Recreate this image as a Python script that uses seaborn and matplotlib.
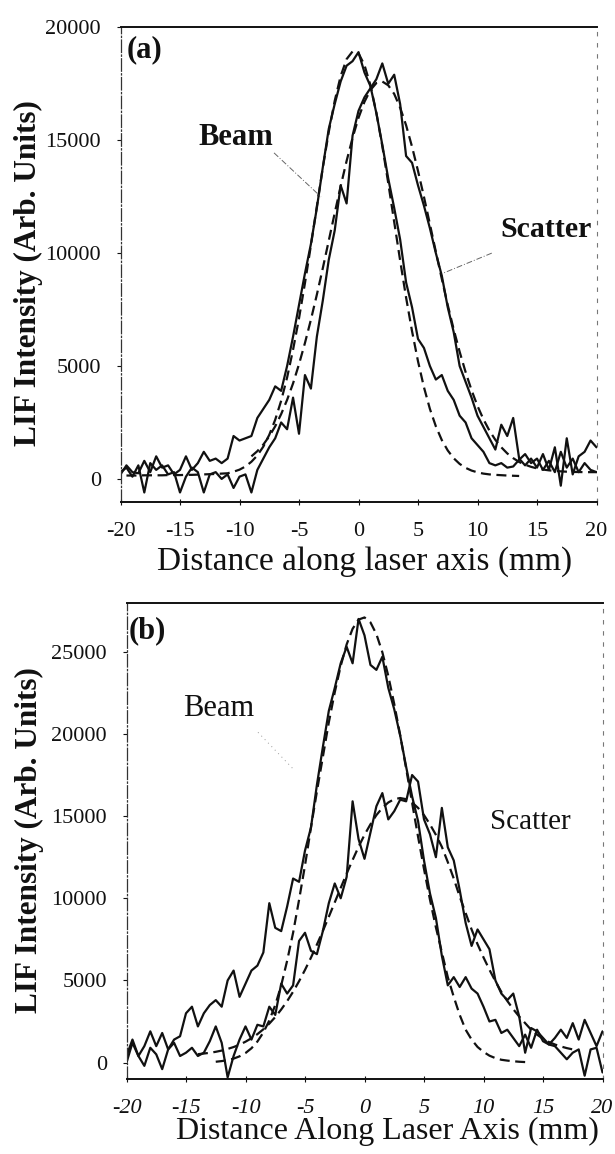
import numpy as np
import matplotlib
matplotlib.use("Agg")
import matplotlib.pyplot as plt
import seaborn as sns

# ---------------- data ----------------
# measured profiles sampled every 0.5 mm from -20 to 20 mm
X_GRID = np.arange(-20, 20.25, 0.5)

beam_a = [200, 600, 300, 250, 800, 300, 1000, 500, 600, 200,
          400, 1000, 400, 700, 1200, 800, 900, 700, 900, 1900,
          1700, 1800, 1900, 2700, 3100, 3500, 4100, 3900, 5000, 6300,
          7700, 9100, 10400, 12000, 13800, 15500, 16600, 17600, 18300, 18500,
          18900, 18000, 17400, 16200, 14800, 13300, 12000, 10600, 8700, 7600,
          6200, 5800, 5000, 4400, 4600, 3900, 3500, 2800, 2500, 1800,
          1500, 1200, 700, 600, 700, 500, 550, 850, 1100, 700,
          900, 400, 800, 300, 1200, 500, 900, 300, 700, 400, 300]

scatter_a = [300, 500, 100, 600, -600, 700, 400, 600, 200, 300,
             -600, 100, 500, 300, -600, 200, 300, 0, 200, -400,
             100, 200, -600, 400, 900, 1400, 1800, 2500, 2200, 3600,
             2000, 4600, 4000, 6300, 7900, 9700, 11000, 13000, 12200, 15200,
             16300, 16900, 17300, 17700, 18400, 17500, 17900, 16600, 14300, 14000,
             13000, 12100, 11100, 10000, 9000, 7600, 6500, 5000, 4300, 3600,
             2800, 2300, 1800, 1300, 2400, 1900, 2700, 900, 600, 900,
             500, 1100, 400, 1400, -300, 1800, 200, 1000, 1200, 1700, 1400]

beam_fit_a_x = np.arange(-19.5, 13.75, 0.5)
beam_fit_a = [150, 150, 150, 160, 160, 160, 160, 170, 170, 170,
              180, 180, 190, 200, 210, 220, 235, 250, 320, 410,
              550, 760, 1040, 1430, 1950, 2620, 3460, 4490, 5720, 7110,
              8670, 10340, 12070, 13780, 15360, 16740, 17840, 18590, 18930, 18850,
              18330, 17440, 16220, 14740, 13100, 11380, 9670, 8030, 6540, 5210,
              4060, 3100, 2330, 1720, 1260, 915, 665, 490, 370, 290,
              235, 200, 180, 165, 150, 140, 130]

scatter_fit_a_x = np.arange(-9, 20.25, 0.5)
scatter_fit_a = [1000, 1230, 1520, 1890, 2330, 2870, 3500, 4230, 5080, 6020,
                 7050, 8160, 9330, 10550, 11770, 12960, 14080, 15100, 15990, 16700,
                 17220, 17530, 17600, 17430, 17050, 16440, 15660, 14710, 13640, 12490,
                 11280, 10060, 8860, 7700, 6620, 5630, 4730, 3930, 3230, 2640,
                 2140, 1730, 1400, 1130, 920, 750, 630, 535, 465, 415,
                 380, 355, 335, 320, 310, 305, 300, 300, 300]

beam_b = [400, 1400, 400, 1000, 1900, 1000, 1800, 800, 1400, 1600,
          3000, 3400, 2200, 3000, 3500, 3800, 3400, 5000, 5600, 4000,
          4800, 5600, 5900, 6700, 9700, 8200, 8000, 9500, 11200, 11000,
          12900, 14300, 16900, 19200, 21400, 22800, 24300, 25300, 24300, 27000,
          26000, 24200, 23900, 24700, 22800, 21500, 19900, 18000, 16200, 14700,
          12300, 10300, 8800, 6500, 4700, 5200, 4600, 5200, 4500, 4200,
          3400, 2500, 2600, 1800, 2000, 1500, 1000, 1700, 900, 2000,
          1300, 1100, 1500, 2000, 1500, 2400, 1400, 2600, 1800, 1000, 1900]

scatter_b = [0, 1200, 400, -200, 900, 500, -400, 800, 1200, 400,
             600, 900, 400, 600, 1300, 2200, 1200, -900, 400, 1400,
             2200, 1400, 2300, 2200, 3400, 2900, 4800, 4200, 4700, 7400,
             7900, 6800, 6600, 8000, 9700, 10900, 10000, 11300, 15900, 13600,
             12400, 14000, 15600, 16400, 14800, 15300, 16000, 15900, 17500, 17100,
             14800, 13900, 12500, 15500, 13100, 12300, 10500, 8500, 7100, 8100,
             7500, 6900, 5000, 4200, 3800, 4200, 2800, 600, 2100, 1900,
             1500, 1100, 1000, 600, 200, 600, 800, -800, 800, 900, -600]

beam_fit_b_x = np.arange(-12.5, 13.75, 0.5)
beam_fit_b = [50, 90, 150, 240, 380, 580, 870, 1280, 1830, 2560,
              3500, 4700, 6200, 7900, 9900, 12000, 14300, 16500, 18600, 20700,
              22530, 24140, 25450, 26400, 26960, 27090, 26790, 26070, 24970, 23530,
              21820, 19920, 17890, 15810, 13750, 11780, 9920, 8230, 6710, 5200,
              4000, 2900, 2000, 1400, 950, 650, 420, 270, 170, 120,
              80, 50, 30]

scatter_fit_b_x = np.arange(-14, 17.75, 0.5)
scatter_fit_b = [510, 550, 595, 655, 730, 830, 945, 1090, 1270, 1480,
                 1730, 2025, 2370, 2770, 3230, 3740, 4310, 4950, 5640, 6385,
                 7180, 8010, 8870, 9750, 10630, 11500, 12330, 13130, 13860, 14500,
                 15060, 15500, 15830, 16030, 16100, 16030, 15830, 15500, 15060, 14500,
                 13860, 13130, 12200, 11200, 10100, 9100, 8100, 7200, 6400, 5650,
                 4950, 4300, 3750, 3250, 2800, 2400, 2000, 1700, 1450, 1250,
                 1100, 980, 880, 800]

X_TICKS = [-20, -15, -10, -5, 0, 5, 10, 15, 20]
X_TICK_LABELS = ["-20", "-15", "-10", "-5", "0", "5", "10", "15", "20"]
Y_TICKS_A = [0, 5000, 10000, 15000, 20000]
Y_TICKS_B = [0, 5000, 10000, 15000, 20000, 25000]

# ---------------- styling ----------------
sns.set_theme(style="white")
plt.rcParams["font.family"] = ["Liberation Serif", "DejaVu Serif"]

INK = "#111111"
SOLID_LW = 1.6
DASH = (0, (4.5, 2.5))

W, H = 615, 1154
fig = plt.figure(figsize=(W / 100, H / 100), dpi=100)
fig.patch.set_facecolor("white")

ax_a = fig.add_axes([120.5 / W, 1 - 501.5 / H, 476 / W, 474.2 / H])
ax_b = fig.add_axes([126.5 / W, 1 - 1079 / H, 476 / W, 476.5 / H])


def draw_profiles(ax, beam, scatter, bfx, bf, sfx, sf):
    for y in (beam, scatter):
        sns.lineplot(x=X_GRID, y=y, ax=ax, color=INK, linewidth=SOLID_LW,
                     estimator=None, sort=False)
    for xs, ys in ((bfx, bf), (sfx, sf)):
        sns.lineplot(x=xs, y=ys, ax=ax, color=INK, linewidth=SOLID_LW,
                     linestyle=DASH, estimator=None, sort=False)


def style_axes(ax, yticks, ylim, italic_x=False):
    ax.set_xlim(-20, 20)
    ax.set_ylim(*ylim)
    ax.set_xticks(X_TICKS)
    ax.set_xticklabels(X_TICK_LABELS, fontsize=16,
                       fontstyle="italic" if italic_x else "normal")
    ax.set_yticks(yticks)
    ax.set_yticklabels([str(v) for v in yticks], fontsize=16)
    ax.tick_params(axis="y", direction="out", length=3, width=0.8,
                   pad=11, colors=INK, left=True)
    ax.tick_params(axis="x", direction="inout", length=5, width=0.8,
                   pad=12, colors=INK, bottom=True)
    ax.set_xlabel("")
    ax.set_ylabel("")
    ax.grid(False)
    ax.set_facecolor("white")
    for side in ("top", "bottom"):
        ax.spines[side].set_color(INK)
        ax.spines[side].set_linewidth(1.4)
    ax.spines["left"].set_color("#333333")
    ax.spines["left"].set_linewidth(0.9)
    ax.spines["left"].set_linestyle((0, (10, 2, 1, 2)))
    ax.spines["right"].set_color("#777777")
    ax.spines["right"].set_linewidth(0.8)
    ax.spines["right"].set_linestyle((0, (3, 7)))


draw_profiles(ax_a, beam_a, scatter_a, beam_fit_a_x, beam_fit_a,
              scatter_fit_a_x, scatter_fit_a)
style_axes(ax_a, Y_TICKS_A, (-1000, 20000))

draw_profiles(ax_b, beam_b, scatter_b, beam_fit_b_x, beam_fit_b,
              scatter_fit_b_x, scatter_fit_b)
style_axes(ax_b, Y_TICKS_B, (-1000, 28000), italic_x=True)

# panel tags and curve labels
ax_a.text(-19.5, 19000, "(a)", fontsize=22, fontweight="bold",
          ha="left", va="center", color=INK)
ax_a.text(-10.3, 15140, "Beam", fontsize=22, fontweight="bold",
          ha="center", va="center", color=INK)
ax_a.text(15.8, 11030, "Scatter", fontsize=21.5, fontweight="bold",
          ha="center", va="center", color=INK)
ax_a.plot([-7.1, -3.15], [14440, 12490], color="#666666", lw=0.7,
          linestyle=(0, (6, 2, 1, 2)))
ax_a.plot([11.2, 7.2], [10000, 9130], color="#666666", lw=0.7,
          linestyle=(0, (6, 2, 1, 2)))

ax_b.text(-19.8, 26300, "(b)", fontsize=22, fontweight="bold",
          ha="left", va="center", color=INK)
ax_b.text(-12.3, 21570, "Beam", fontsize=22,
          ha="center", va="center", color=INK)
ax_b.text(13.9, 14640, "Scatter", fontsize=21,
          ha="center", va="center", color=INK)
ax_b.plot([-8.95, -5.9], [20100, 17800], color="#999999", lw=0.7,
          linestyle=(0, (1, 4)))

# axis titles
fig.text(28 / W, 1 - 273 / H, "LIF Intensity (Arb. Units)", rotation=90,
         fontsize=22.5, fontweight="bold", ha="center", va="center", color=INK)
fig.text(365 / W, 1 - 561.5 / H, "Distance along laser axis (mm)",
         fontsize=24, ha="center", va="center", color=INK)
fig.text(29 / W, 1 - 840 / H, "LIF Intensity (Arb. Units)", rotation=90,
         fontsize=22.5, fontweight="bold", ha="center", va="center", color=INK)
fig.text(387.5 / W, 1 - 1131 / H, "Distance Along Laser Axis (mm)",
         fontsize=23, ha="center", va="center", color=INK)

fig.savefig("out.png", dpi=100, facecolor="white")
